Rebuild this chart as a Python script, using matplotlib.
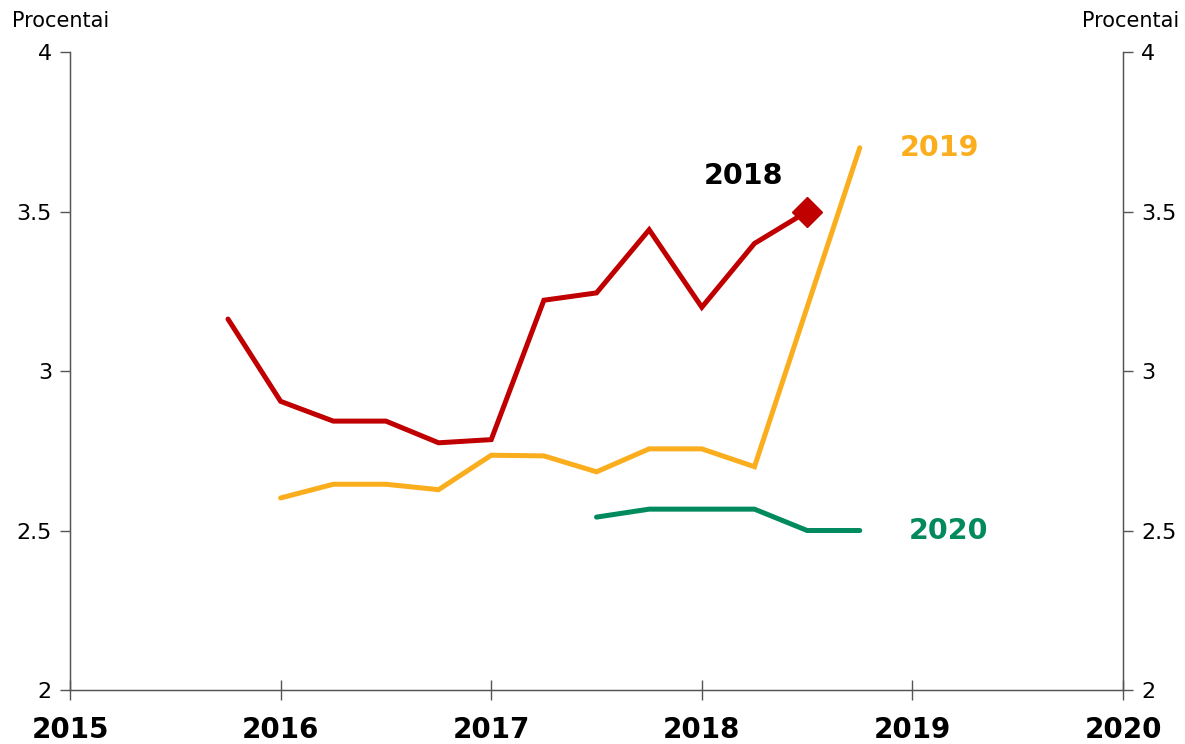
import matplotlib
matplotlib.use("Agg")
import matplotlib.pyplot as plt

plt.rcParams["font.family"] = ["DejaVu Sans"]

RED = "#c00000"; ORANGE = "#fbae1d"; GREEN = "#008a5e"; AXC = "#555555"

# ketvirčiai (metai + ketvirtis)
x_2018 = [2015.75, 2016.0, 2016.25, 2016.5, 2016.75, 2017.0, 2017.25, 2017.5, 2017.75, 2018.0, 2018.25, 2018.5]
y_2018 = [3.163, 2.905, 2.843, 2.843, 2.775, 2.785, 3.222, 3.245, 3.443, 3.200, 3.400, 3.500]

x_2019 = [2016.0, 2016.25, 2016.5, 2016.75, 2017.0, 2017.25, 2017.5, 2017.75, 2018.0, 2018.25, 2018.5, 2018.75]
y_2019 = [2.602, 2.645, 2.645, 2.628, 2.736, 2.734, 2.684, 2.756, 2.756, 2.700, 3.200, 3.700]

x_2020 = [2017.5, 2017.75, 2018.0, 2018.25, 2018.5, 2018.75]
y_2020 = [2.542, 2.567, 2.567, 2.567, 2.500, 2.500]

years = [2015, 2016, 2017, 2018, 2019, 2020]
yticks = [2, 2.5, 3, 3.5, 4]
ytick_labels = ["2", "2.5", "3", "3.5", "4"]

fig = plt.figure(figsize=(11.85, 7.44), dpi=100)
ax = fig.add_axes([0.0591, 0.0726, 0.8886, 0.8574])
ax.set_xlim(2015, 2020)
ax.set_ylim(2, 4)

ax.plot(x_2018, y_2018, color=RED, lw=3.6, solid_capstyle="round", solid_joinstyle="miter")
ax.plot(x_2018[-1], y_2018[-1], marker="D", ms=15, color=RED, mec=RED)
ax.plot(x_2019, y_2019, color=ORANGE, lw=3.6, solid_capstyle="round", solid_joinstyle="miter")
ax.plot(x_2020, y_2020, color=GREEN, lw=3.6, solid_capstyle="round", solid_joinstyle="miter")

ax.text(2018.2, 3.61, "2018", color="black", fontsize=20.5, fontweight="bold", ha="center", va="center")
ax.text(2019.13, 3.70, "2019", color=ORANGE, fontsize=20.5, fontweight="bold", ha="center", va="center")
ax.text(2019.17, 2.50, "2020", color=GREEN, fontsize=20.5, fontweight="bold", ha="center", va="center")

ax.spines["top"].set_visible(False)
for s in ["left", "right", "bottom"]:
    ax.spines[s].set_color(AXC)
    ax.spines[s].set_linewidth(1.0)

ax.set_xticks(years)
ax.set_xticklabels([str(y) for y in years], fontsize=20, fontweight="bold")
ax.tick_params(axis="x", direction="inout", length=14, width=1, color=AXC, pad=12)
ax.set_yticks(yticks)
ax.set_yticklabels(ytick_labels, fontsize=16)
ax.tick_params(axis="y", direction="out", length=7, width=1, color=AXC, pad=6)

ax2 = ax.twinx()
ax2.set_ylim(2, 4)
ax2.set_yticks(yticks)
ax2.set_yticklabels(ytick_labels, fontsize=16)
ax2.tick_params(axis="y", direction="out", length=7, width=1, color=AXC, pad=6)
ax2.spines["top"].set_visible(False)
for s in ["left", "right", "bottom"]:
    ax2.spines[s].set_color(AXC)

fig.text(0.010, 0.985, "Procentai", fontsize=15, ha="left", va="top")
fig.text(0.995, 0.985, "Procentai", fontsize=15, ha="right", va="top")

fig.savefig("out.png", dpi=100)
